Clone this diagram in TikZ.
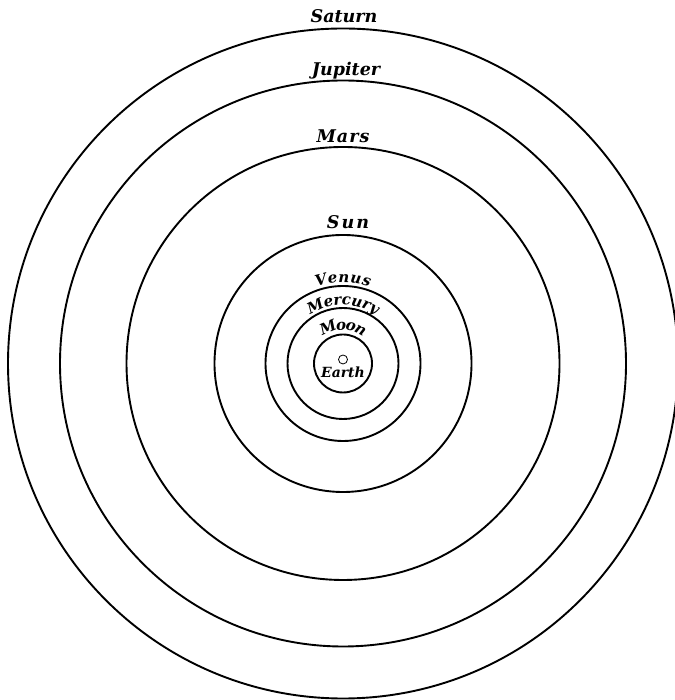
\documentclass[tikz,border=0pt]{standalone}
\usepackage{fontspec}
\newfontfamily\planetfont{DejaVu Serif}
\usetikzlibrary{decorations.text}

\begin{document}
\begin{tikzpicture}[
    x=1pt, y=1pt,
    orbit/.style={draw=black, line width=1.9pt},
    planet/.style={anchor=base, inner sep=0pt, font=\planetfont\bfseries\itshape\fontsize{17.5}{17.5}\selectfont},
    arclabel/.style={decoration={text effects along path, text={#1}, text effects/.cd, text along path, fit text to path,
        every character/.style={anchor=base, inner sep=0pt, font=\planetfont\bfseries\itshape\fontsize{15}{15}\selectfont}}, decorate}
]
    \useasboundingbox (0,0) rectangle (674,700);
    \coordinate (earth) at (343,336.5);

    % --- ORBITS ---
    \draw[orbit] (earth) circle[radius=29pt];
    \draw[orbit] (earth) circle[radius=55.5pt];
    \draw[orbit] (earth) circle[radius=77.5pt];
    \draw[orbit] (earth) circle[radius=128.5pt];
    \draw[orbit] (earth) circle[radius=216.5pt];
    \draw[orbit] (earth) circle[radius=283pt];
    \draw[orbit] (earth) circle[radius=335pt];

    % --- OUTER LABELS ---
    \node at (344,677.5) [planet] (saturn) {Saturn};
    \node at (346,624.5) [planet] (jupiter) {Jupiter};
    \node at (343,557.5) [planet] (mars) {\addfontfeature{LetterSpace=6}Mars};
    \node at (348,471) [planet] (sun) {\addfontfeature{LetterSpace=12}Sun};

    % --- INNER LABELS (along the orbits) ---
    \path[arclabel=Venus] (earth) ++(109:81pt) arc[start angle=109, end angle=71, radius=81pt];
    \path[arclabel=Mercury] (earth) ++(124:58.5pt) arc[start angle=124, end angle=56, radius=58.5pt];
    \path[arclabel=Moon] (earth) ++(127:33.5pt) arc[start angle=127, end angle=53, radius=33.5pt];

    % --- EARTH ---
    \draw[line width=0.8pt] (343,340.5) circle[radius=4.5pt];
    \node at (343,322.5) [planet, font=\planetfont\bfseries\itshape\fontsize{14}{14}\selectfont] (earthlabel) {Earth};
\end{tikzpicture}
\end{document}
